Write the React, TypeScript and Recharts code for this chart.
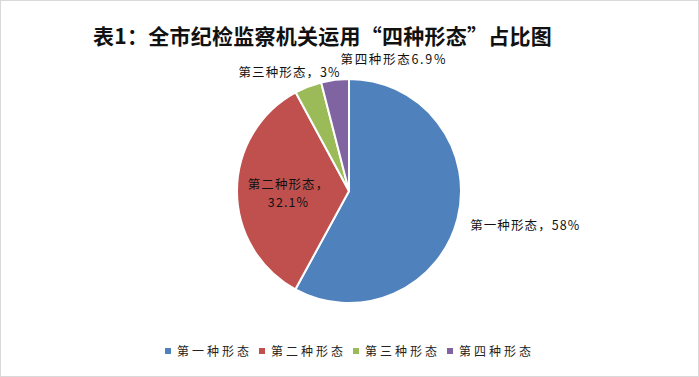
import React from 'react';
import { PieChart, Pie, Cell, Legend } from 'recharts';

const categories = ['第一种形态', '第二种形态', '第三种形态', '第四种形态'];
// slice sizes as drawn in the picture (percent)
const sliceValues = [58, 34.2, 3.9, 4.0];
// label texts as printed on the picture
const labelTexts = ['第一种形态，58%', '第二种形态，|32.1%', '第三种形态，3%', '第四种形态6.9%'];
const colors = ['#4F81BD', '#C0504D', '#9BBB59', '#8064A2'];

const data = categories.map((name, i) => ({ name, value: sliceValues[i] }));

const RAD = Math.PI / 180;
const FONT = '"Noto Sans CJK SC", "Noto Sans", sans-serif';

const renderLabel = (props: any) => {
  const { cx, cy, midAngle, outerRadius, index } = props;
  const text = labelTexts[index];
  const common = { fontSize: 12.5, fill: '#111', fontFamily: FONT, letterSpacing: 1.1 } as any;
  if (index === 0) {
    const r = outerRadius + 13;
    const x = cx + r * Math.cos(-midAngle * RAD);
    const y = cy + r * Math.sin(-midAngle * RAD);
    return (
      <text x={x} y={y + 3} textAnchor="start" dominantBaseline="central" {...common}>
        {text}
      </text>
    );
  }
  if (index === 1) {
    const r = outerRadius * 0.54;
    const x = cx + r * Math.cos(-midAngle * RAD);
    const y = cy + r * Math.sin(-midAngle * RAD);
    const [a, b] = text.split('|');
    return (
      <g>
        <text x={x} y={y - 7} textAnchor="middle" dominantBaseline="central" {...common}>{a}</text>
        <text x={x} y={y + 11} textAnchor="middle" dominantBaseline="central" {...common}>{b}</text>
      </g>
    );
  }
  if (index === 2) {
    const r = outerRadius + 12;
    const x = cx + r * Math.cos(-midAngle * RAD);
    const y = cy + r * Math.sin(-midAngle * RAD);
    return (
      <text x={x + 37} y={y - 4} textAnchor="end" dominantBaseline="central" {...common}>
        {text}
      </text>
    );
  }
  const r = outerRadius + 20;
  const x = cx + r * Math.cos(-midAngle * RAD);
  const y = cy + r * Math.sin(-midAngle * RAD);
  return (
    <text x={x + 8} y={y - 2} textAnchor="start" dominantBaseline="central" {...common} letterSpacing={1.7}>
      {text}
    </text>
  );
};

const renderLegend = () => (
  <div style={{ position: 'relative', width: 699, height: 20 }}>
    {categories.map((c, i) => (
      <div
        key={c}
        style={{
          position: 'absolute',
          left: 165 + i * 94,
          top: 0,
          display: 'flex',
          alignItems: 'center',
          fontFamily: FONT,
          fontSize: 12,
          letterSpacing: 3,
          color: '#222',
          whiteSpace: 'nowrap',
        }}
      >
        <span style={{ display: 'inline-block', width: 6, height: 6, background: colors[i], marginRight: 6 }} />
        <span>{c}</span>
      </div>
    ))}
  </div>
);

export default function App() {
  return (
    <div
      style={{
        position: 'absolute',
        left: 0,
        top: 0,
        width: 699,
        height: 377,
        background: '#fff',
        border: '1px solid #D9D9D9',
        boxSizing: 'border-box',
        overflow: 'hidden',
      }}
    >
      <div
        style={{
          position: 'absolute',
          left: 92,
          top: 19,
          fontFamily: FONT,
          fontWeight: 700,
          fontSize: 21,
          letterSpacing: 0.25,
          color: '#111',
          whiteSpace: 'nowrap',
          lineHeight: '30px',
        }}
      >
        表1：全市纪检监察机关运用“四种形态”占比图
      </div>
      <div style={{ position: 'absolute', left: -1, top: -1 }}>
        <PieChart width={699} height={377} margin={{ top: 0, right: 0, bottom: 0, left: 0 }}>
          <Pie
            data={data}
            dataKey="value"
            nameKey="name"
            cx={349}
            cy={191}
            outerRadius={112}
            startAngle={90}
            endAngle={-270}
            stroke="#fff"
            strokeWidth={2}
            label={renderLabel}
            labelLine={false}
            isAnimationActive={false}
          >
            {data.map((d, i) => (
              <Cell key={d.name} fill={colors[i]} />
            ))}
          </Pie>
          <Legend
            content={renderLegend}
            wrapperStyle={{ position: 'absolute', left: 0, top: 342, width: 699, height: 20 }}
          />
        </PieChart>
      </div>
    </div>
  );
}
